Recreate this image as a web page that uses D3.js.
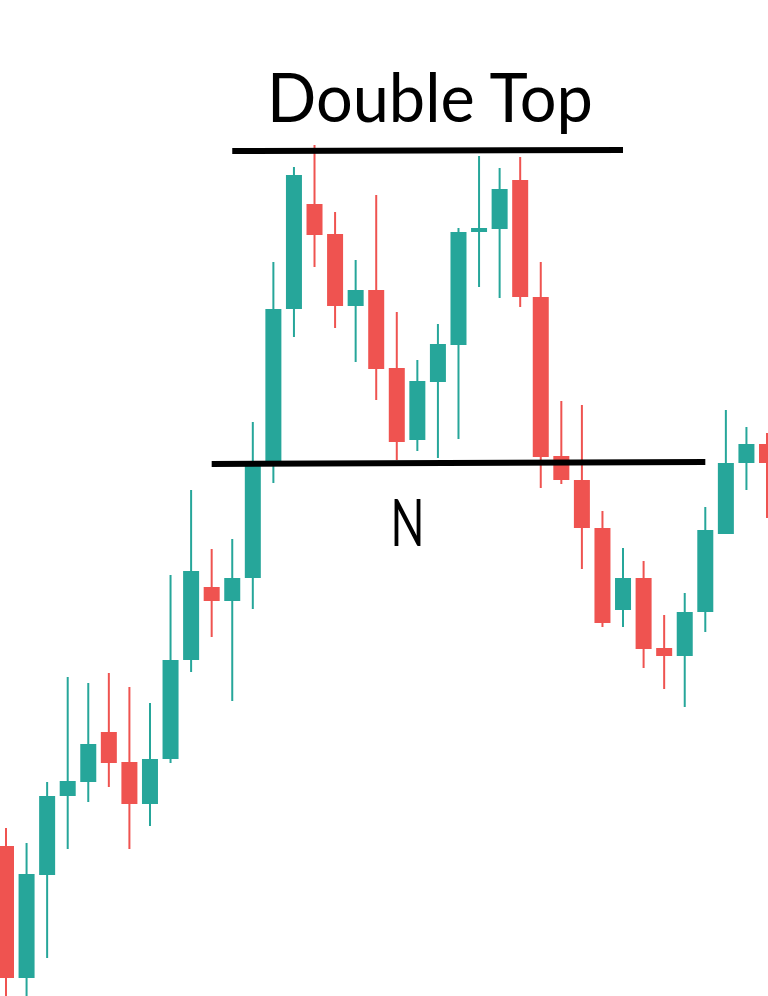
<!DOCTYPE html>
<html>
<head>
<meta charset="utf-8">
<script src="https://cdn.jsdelivr.net/npm/d3@7"></script>
<style>
  html, body { margin: 0; padding: 0; background: #fff; overflow: hidden; }
  svg { display: block; }
</style>
</head>
<body>
<div id="chart"></div>
<script>
// candle data (arbitrary price units)
var opens  = [15.4, 2.2, 12.5, 20.4, 21.8, 26.8, 23.8, 19.6, 24.1, 34.0, 41.3, 39.9, 42.2, 53.8, 69.1, 79.6, 76.6, 69.4, 71.0, 63.2, 56.0, 61.8, 65.5, 76.8, 77.1, 82.0, 70.3, 54.4, 52.0, 47.2, 39.0, 42.2, 35.2, 34.4, 38.8, 46.6, 53.7, 55.6];
var highs  = [17.2, 15.7, 21.8, 32.3, 31.7, 32.7, 31.3, 29.7, 42.5, 51.0, 45.1, 46.1, 57.8, 73.8, 83.3, 85.5, 78.8, 74.0, 80.5, 68.8, 64.0, 67.6, 77.2, 84.4, 83.2, 84.3, 73.8, 59.9, 59.5, 48.9, 45.2, 43.9, 38.5, 40.7, 49.3, 59.0, 57.3, 56.7];
var lows   = [-0.5, -0.5, 4.2, 15.1, 19.8, 21.3, 15.1, 17.4, 23.7, 32.8, 36.3, 29.9, 39.1, 51.7, 66.3, 73.3, 67.2, 63.8, 60.0, 54.0, 54.9, 54.2, 56.1, 71.3, 70.2, 69.3, 51.2, 51.6, 43.1, 37.3, 37.3, 33.2, 31.1, 29.3, 36.8, 46.6, 51.0, 48.2];
var closes = [2.2, 12.6, 20.4, 21.9, 25.6, 23.7, 19.6, 24.1, 34.0, 42.9, 39.9, 42.2, 53.8, 69.1, 82.5, 76.5, 69.4, 71.0, 63.1, 55.8, 61.9, 65.6, 76.8, 77.2, 81.1, 70.3, 54.3, 52.0, 47.2, 37.7, 42.2, 35.1, 34.4, 38.8, 47.0, 53.7, 55.6, 53.7];

// annotation lines: [start candle, start price, end candle, end price]
var topLine    = [11, 84.9, 30, 85.0];
var bottomLine = [10, 53.6, 34, 53.8];
var titleText = "Double Top";
var necklineLabel = "N";

var width = 768, height = 996;
var bodyWidth = 16;
var colors = { up: "#26a69a", down: "#ef5350" };

var candles = opens.map(function(d, i) {
  return { i: i, open: d, high: highs[i], low: lows[i], close: closes[i] };
});

var x = d3.scaleLinear().domain([0, 37]).range([6, 767]);
var y = d3.scaleLinear().domain([0, 100]).range([1000, 0]);

var svg = d3.select("#chart")
  .append("svg")
  .attr("width", width)
  .attr("height", height);

var g = svg.selectAll(".candle")
  .data(candles)
  .enter().append("g")
  .attr("class", "candle");

function col(d) { return d.close >= d.open ? colors.up : colors.down; }

g.append("line")
  .attr("x1", function(d) { return x(d.i); })
  .attr("x2", function(d) { return x(d.i); })
  .attr("y1", function(d) { return y(d.high); })
  .attr("y2", function(d) { return y(d.low); })
  .attr("stroke", col)
  .attr("stroke-width", 2);

g.append("rect")
  .attr("x", function(d) { return x(d.i) - bodyWidth / 2; })
  .attr("y", function(d) { return y(Math.max(d.open, d.close)); })
  .attr("width", bodyWidth)
  .attr("height", function(d) { return Math.max(1.5, Math.abs(y(d.open) - y(d.close))); })
  .attr("fill", col);

// pattern lines
svg.selectAll(".level")
  .data([topLine, bottomLine])
  .enter().append("line")
  .attr("class", "level")
  .attr("x1", function(d) { return x(d[0]); })
  .attr("y1", function(d) { return y(d[1]); })
  .attr("x2", function(d) { return x(d[2]); })
  .attr("y2", function(d) { return y(d[3]); })
  .attr("stroke", "#000")
  .attr("stroke-width", 6);

svg.append("text")
  .attr("x", 430)
  .attr("y", 122)
  .attr("text-anchor", "middle")
  .attr("textLength", 326)
  .attr("lengthAdjust", "spacingAndGlyphs")
  .style("font-family", "Lato, 'Open Sans', sans-serif")
  .style("font-size", "68px")
  .style("fill", "#000")
  .text(titleText);

svg.append("text")
  .attr("x", 407.5)
  .attr("y", 546)
  .attr("text-anchor", "middle")
  .attr("textLength", 34)
  .attr("lengthAdjust", "spacingAndGlyphs")
  .style("font-family", "Lato, 'Open Sans', sans-serif")
  .style("font-size", "66px")
  .style("fill", "#000")
  .text(necklineLabel);
</script>
</body>
</html>
